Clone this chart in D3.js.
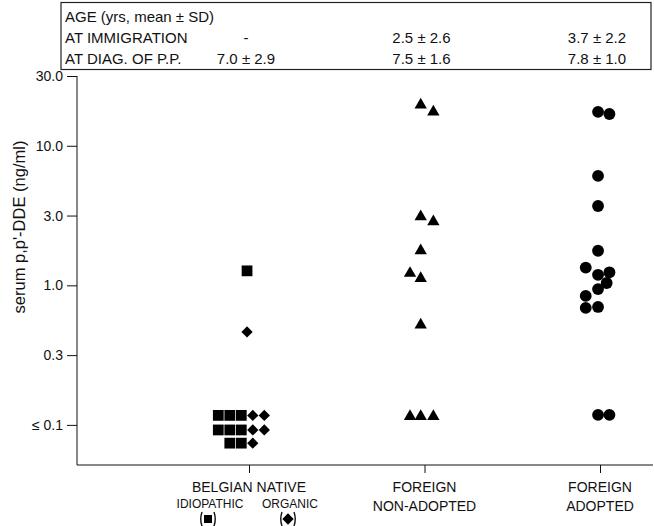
<!DOCTYPE html>
<html><head><meta charset="utf-8">
<script src="https://cdn.jsdelivr.net/npm/d3@7"></script>
<style>
html,body{margin:0;padding:0;background:#fff;}
text{font-family:"Liberation Sans",Arial,sans-serif;fill:#111;}
</style></head>
<body><svg id="c" width="654" height="526"></svg>
<script>
// ---- data ----
const categories = ["BELGIAN NATIVE", "FOREIGN NON-ADOPTED", "FOREIGN ADOPTED"];
const categoryLines = [["BELGIAN NATIVE"], ["FOREIGN", "NON-ADOPTED"], ["FOREIGN", "ADOPTED"]];
const subgroupLabels = ["IDIOPATHIC", "ORGANIC"];
const tickValues = [0.1, 0.3162, 1, 3.162, 10, 31.62];
const tickLabels = ["\u2264 0.1", "0.3", "1.0", "3.0", "10.0", "30.0"];
const tableTitle = "AGE (yrs, mean \u00b1 SD)";
const tableRowLabels = ["AT IMMIGRATION", "AT DIAG. OF P.P."];
const ageImmigration = ["-", "2.5 \u00b1 2.6", "3.7 \u00b1 2.2"];
const ageDiagnosis = ["7.0 \u00b1 2.9", "7.5 \u00b1 1.6", "7.8 \u00b1 1.0"];

// Belgian native, idiopathic (squares)
const idiopathicValues = [1.27, 0.117, 0.117, 0.117, 0.092, 0.092, 0.092, 0.074, 0.074];
const idiopathicDodge  = [-0.17, -2.67, -1.67, -0.67, -2.67, -1.67, -0.67, -1.67, -0.67];
// Belgian native, organic (diamonds)
const organicValues = [0.464, 0.117, 0.117, 0.092, 0.092, 0.074];
const organicDodge  = [-0.17, 0.33, 1.33, 0.33, 1.33, 0.33];
// Foreign non-adopted (triangles)
const nonAdoptedValues = [19.6, 17.5, 3.11, 2.86, 1.77, 1.22, 1.12, 0.52, 0.115, 0.115, 0.115];
const nonAdoptedDodge  = [-0.33, 0.77, -0.33, 0.77, -0.33, -1.26, -0.33, -0.33, -1.26, -0.33, 0.77];
// Foreign adopted (circles)
const adoptedValues = [17.5, 16.9, 6.08, 3.70, 1.77, 1.34, 1.19, 1.24, 1.04, 0.94, 0.84, 0.69, 0.70, 0.118, 0.118];
const adoptedDodge  = [-0.17, 0.82, -0.17, -0.17, -0.17, -1.24, -0.17, 0.82, 0.58, -0.17, -1.24, -1.24, -0.17, -0.17, 0.82];

// ---- layout ----
const svg = d3.select("#c");
const axisX = 77, axisTop = 76, axisBottom = 465, axisRight = 653;
const unit = 11.5;

const y = d3.scaleLog().domain([0.0516, 31.62]).range([axisBottom, axisTop]);
const x = d3.scalePoint().domain(categories).range([249, 600]);

// custom diamond (square rotated 45deg)
const diamondType = { draw(ctx, size) { const r = Math.sqrt(size / 2); ctx.moveTo(0, -r); ctx.lineTo(r, 0); ctx.lineTo(0, r); ctx.lineTo(-r, 0); ctx.closePath(); } };

// y axis
const yAxis = d3.axisLeft(y).tickValues(tickValues).tickFormat((d, i) => tickLabels[i]).tickSize(10).tickSizeOuter(0).tickPadding(4);
const gy = svg.append("g").attr("transform", `translate(${axisX},0)`).call(yAxis);
gy.select(".domain").remove();
gy.append("line").attr("x1", 0).attr("x2", 0).attr("y1", axisTop).attr("y2", axisBottom).attr("stroke", "#111");
gy.selectAll(".tick line").attr("stroke", "#111");
gy.selectAll(".tick text").style("font-size", "14px").style("font-family", "Liberation Sans, Arial, sans-serif").attr("fill", "#111");

// x axis
const xAxis = d3.axisBottom(x).tickSize(8).tickFormat("");
const gx = svg.append("g").attr("transform", `translate(0,${axisBottom})`).call(xAxis);
gx.select(".domain").remove();
gx.append("line").attr("x1", axisX).attr("x2", axisRight).attr("y1", 0).attr("y2", 0).attr("stroke", "#111");
gx.selectAll(".tick line").attr("stroke", "#111");

// y label
svg.append("text").attr("transform", `translate(25,227) rotate(-90)`).attr("text-anchor", "middle")
  .style("font-size", "16.5px").text("serum p,p'-DDE (ng/ml)");

// category labels
categoryLines.forEach((lines, i) => {
  lines.forEach((t, j) => {
    svg.append("text").attr("x", x(categories[i])).attr("y", 492 + j * 19).attr("text-anchor", "middle")
      .style("font-size", "14px").text(t);
  });
});
const subX = [x(categories[0]) - 39, x(categories[0]) + 41];
subgroupLabels.forEach((t, i) => {
  svg.append("text").attr("x", subX[i]).attr("y", 508).attr("text-anchor", "middle").style("font-size", "12px").text(t);
});
// legend bracket symbols
[[d3.symbolSquare, 64], [diamondType, 64]].forEach(([t, s], i) => {
  const cx = subX[i] - 2, cy = 519;
  const g = svg.append("g").attr("transform", `translate(${cx},${cy})`);
  g.append("path").attr("d", d3.symbol().type(t).size(s)()).attr("fill", "#000");
  g.append("path").attr("d", "M-6,-7 Q-8.5,0 -6,7").attr("fill", "none").attr("stroke", "#111").attr("stroke-width", 1.4);
  g.append("path").attr("d", "M6,-7 Q8.5,0 6,7").attr("fill", "none").attr("stroke", "#111").attr("stroke-width", 1.4);
});

// points
function drawPoints(values, dodge, cat, type, size) {
  svg.append("g").selectAll("path").data(values).join("path")
    .attr("transform", (d, i) => `translate(${x(cat) + dodge[i] * unit},${y(d)})`)
    .attr("d", d3.symbol().type(type).size(size)())
    .attr("fill", "#000");
}
drawPoints(idiopathicValues, idiopathicDodge, categories[0], d3.symbolSquare, 116);
drawPoints(organicValues, organicDodge, categories[0], diamondType, 64);
drawPoints(nonAdoptedValues, nonAdoptedDodge, categories[1], d3.symbolTriangle, 66);
drawPoints(adoptedValues, adoptedDodge, categories[2], d3.symbolCircle, 110);

// table
const tb = svg.append("g");
tb.append("rect").attr("x", 61).attr("y", 2.5).attr("width", 590).attr("height", 67)
  .attr("fill", "none").attr("stroke", "#222").attr("stroke-width", 1.2);
tb.append("text").attr("x", 65).attr("y", 22).style("font-size", "15px").text(tableTitle);
tableRowLabels.forEach((t, i) => {
  tb.append("text").attr("x", 65).attr("y", 43 + i * 21).style("font-size", "15px").text(t);
});
[ageImmigration, ageDiagnosis].forEach((row, r) => {
  row.forEach((t, i) => {
    tb.append("text").attr("x", x(categories[i]) - 3).attr("y", 43 + r * 21).attr("text-anchor", "middle")
      .style("font-size", "15px").text(t);
  });
});
</script></body></html>
